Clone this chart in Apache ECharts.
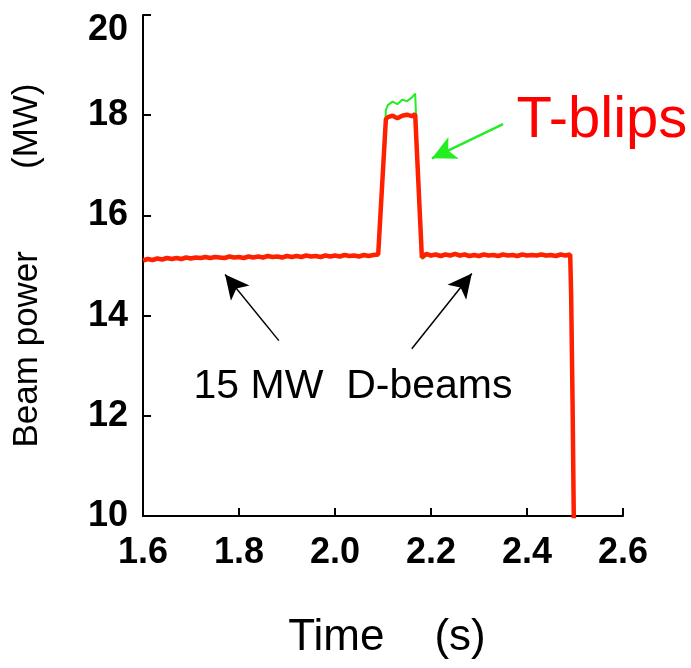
<!DOCTYPE html>
<html>
<head>
<meta charset="utf-8">
<script src="https://cdn.jsdelivr.net/npm/echarts@6/dist/echarts.min.js"></script>
<style>
  html, body { margin: 0; padding: 0; background: #fff; }
  #chart { width: 691px; height: 668px; }
</style>
</head>
<body>
<div id="chart"></div>
<script>
// ---- data ----
const times = [
  1.60, 1.61, 1.62, 1.63, 1.64, 1.65, 1.66, 1.67, 1.68, 1.69,
  1.70, 1.71, 1.72, 1.73, 1.74, 1.75, 1.76, 1.77, 1.78, 1.79,
  1.80, 1.81, 1.82, 1.83, 1.84, 1.85, 1.86, 1.87, 1.88, 1.89,
  1.90, 1.91, 1.92, 1.93, 1.94, 1.95, 1.96, 1.97, 1.98, 1.99,
  2.00, 2.01, 2.02, 2.03, 2.04, 2.05, 2.06, 2.07, 2.08, 2.09,
  2.106, 2.11, 2.12, 2.13, 2.14, 2.15, 2.16, 2.167,
  2.181, 2.19,
  2.20, 2.21, 2.22, 2.23, 2.24, 2.25, 2.26, 2.27, 2.28, 2.29,
  2.30, 2.31, 2.32, 2.33, 2.34, 2.35, 2.36, 2.37, 2.38, 2.39,
  2.40, 2.41, 2.42, 2.43, 2.44, 2.45, 2.46, 2.47, 2.48, 2.49,
  2.492, 2.495, 2.498
];
const redPower = [
  15.10, 15.13, 15.11, 15.14, 15.12, 15.15, 15.13, 15.15, 15.13, 15.16,
  15.14, 15.16, 15.15, 15.17, 15.15, 15.17, 15.16, 15.15, 15.18, 15.16,
  15.17, 15.15, 15.18, 15.16, 15.18, 15.16, 15.19, 15.17, 15.18, 15.16,
  15.19, 15.17, 15.19, 15.17, 15.20, 15.18, 15.19, 15.17, 15.20, 15.18,
  15.20, 15.18, 15.21, 15.19, 15.20, 15.18, 15.21, 15.19, 15.21, 15.22,
  17.92, 17.96, 17.99, 17.94, 17.99, 18.01, 17.98, 18.02,
  15.16, 15.23,
  15.20, 15.22, 15.19, 15.22, 15.20, 15.23, 15.20, 15.22, 15.19, 15.21,
  15.19, 15.22, 15.20, 15.21, 15.19, 15.22, 15.20, 15.21, 15.19, 15.22,
  15.20, 15.21, 15.20, 15.22, 15.20, 15.21, 15.19, 15.22, 15.20, 15.22,
  14.40, 12.20, 9.50
];
const greenPower = [
  15.11, 15.12, 15.10, 15.13, 15.11, 15.13, 15.12, 15.14, 15.12, 15.14,
  15.13, 15.15, 15.13, 15.15, 15.14, 15.16, 15.14, 15.14, 15.16, 15.15,
  15.15, 15.14, 15.16, 15.15, 15.17, 15.15, 15.17, 15.16, 15.17, 15.15,
  15.17, 15.16, 15.18, 15.16, 15.18, 15.17, 15.18, 15.16, 15.18, 15.17,
  15.18, 15.17, 15.19, 15.18, 15.19, 15.17, 15.19, 15.18, 15.20, 15.20,
  18.10, 18.20, 18.27, 18.22, 18.31, 18.28, 18.35, 18.43,
  15.13, 15.20,
  15.18, 15.21, 15.17, 15.20, 15.19, 15.21, 15.18, 15.20, 15.18, 15.19,
  15.18, 15.20, 15.19, 15.20, 15.18, 15.20, 15.19, 15.19, 15.18, 15.20,
  15.19, 15.20, 15.19, 15.20, 15.18, 15.19, 15.18, 15.20, 15.19, 15.20,
  14.38, 12.18, 9.48
];
const xTicks = [1.6, 1.8, 2.0, 2.2, 2.4, 2.6];
const yTicks = [10, 12, 14, 16, 18, 20];

// annotations (data coordinates)
const arrowBeamLeft = [[1.883, 13.50], [1.771, 14.82]];
const arrowBeamRight = [[2.160, 13.34], [2.285, 14.84]];
const arrowBlip = [[2.350, 17.82], [2.202, 17.14]];
const beamsLabel = { text: '15 MW  D-beams', at: [2.0375, 12.58] };
const blipLabel = { text: 'T-blips', at: [2.556, 17.88] };

// ---- chart ----
const FONT = 'Liberation Sans, Arial, sans-serif';
const chart = echarts.init(document.getElementById('chart'), null, { renderer: 'canvas' });

const redData = times.map((t, i) => [t, redPower[i]]);
const greenData = times.map((t, i) => [t, greenPower[i]]);

const option = {
  animation: false,
  backgroundColor: '#ffffff',
  grid: { left: 143, right: 68, top: 15, bottom: 152, containLabel: false, outerBoundsMode: 'none' },
  xAxis: {
    type: 'value',
    min: xTicks[0],
    max: xTicks[xTicks.length - 1],
    interval: 0.2,
    name: '{a|Time}{g|}{a|(s)}',
    nameLocation: 'middle',
    nameGap: 100,
    nameTextStyle: {
      padding: [0, 0, 0, 8],
      rich: {
        a: { fontFamily: FONT, fontSize: 44, color: '#000' },
        g: { width: 50 }
      }
    },
    axisLine: { onZero: false, lineStyle: { color: '#000', width: 2 } },
    axisTick: { inside: true, length: 8, lineStyle: { color: '#000', width: 2 } },
    splitLine: { show: false },
    axisLabel: {
      margin: 19,
      fontFamily: FONT,
      fontSize: 36,
      fontWeight: 'bold',
      color: '#000',
      formatter: v => v.toFixed(1)
    }
  },
  yAxis: {
    type: 'value',
    min: yTicks[0],
    max: yTicks[yTicks.length - 1],
    interval: 2,
    name: '{a|Beam power}{g|}{a|(MW)}',
    nameLocation: 'middle',
    nameGap: 98,
    nameTextStyle: {
      rich: {
        a: { fontFamily: FONT, fontSize: 35, color: '#000' },
        g: { width: 82 }
      }
    },
    axisLine: { onZero: false, lineStyle: { color: '#000', width: 2 } },
    axisTick: { inside: true, length: 8, lineStyle: { color: '#000', width: 2 } },
    splitLine: { show: false },
    axisLabel: {
      margin: 15,
      fontFamily: FONT,
      fontSize: 36,
      fontWeight: 'bold',
      color: '#000',
      formatter: v => (v === 20 ? '{t|20}' : String(v)),
      rich: {
        t: { fontFamily: FONT, fontSize: 36, fontWeight: 'bold', color: '#000', padding: [30, 0, 0, 0] }
      }
    }
  },
  series: [
    {
      name: 'green',
      type: 'line',
      data: greenData,
      showSymbol: false,
      lineStyle: { color: '#22ee22', width: 2 },
      itemStyle: { color: '#22ee22' },
      z: 2,
      silent: true
    },
    {
      name: 'red',
      type: 'line',
      data: redData,
      showSymbol: false,
      lineStyle: { color: '#ff2000', width: 4.5 },
      itemStyle: { color: '#ff2000' },
      z: 3,
      silent: true,
      markLine: {
        silent: true,
        symbol: ['none', 'arrow'],
        symbolSize: [18, 24],
        label: { show: false },
        data: [
          [{ coord: arrowBeamLeft[0], lineStyle: { color: '#000', width: 1.5, type: 'solid' } }, { coord: arrowBeamLeft[1] }],
          [{ coord: arrowBeamRight[0], lineStyle: { color: '#000', width: 1.5, type: 'solid' } }, { coord: arrowBeamRight[1] }],
          [{ coord: arrowBlip[0], lineStyle: { color: '#22ee22', width: 2.5, type: 'solid' }, symbolSize: [22, 28] }, { coord: arrowBlip[1] }]
        ]
      },
      markPoint: {
        silent: true,
        symbol: 'circle',
        symbolSize: 1,
        itemStyle: { color: 'rgba(0,0,0,0)' },
        data: [
          {
            coord: beamsLabel.at,
            label: { show: true, position: 'inside', formatter: beamsLabel.text, fontFamily: FONT, fontSize: 41, color: '#000' }
          },
          {
            coord: blipLabel.at,
            label: { show: true, position: 'inside', formatter: blipLabel.text, fontFamily: FONT, fontSize: 58, color: '#ff0000' }
          }
        ]
      }
    }
  ]
};
chart.setOption(option);
</script>
</body>
</html>
